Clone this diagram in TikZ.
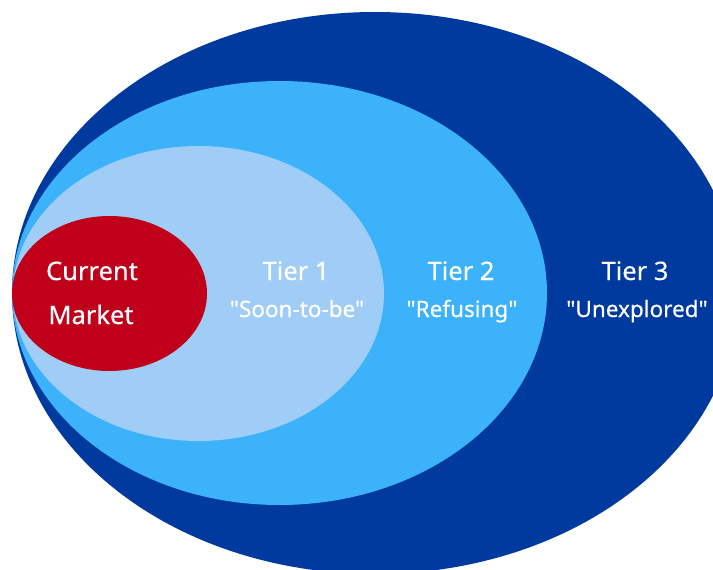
\documentclass[tikz,border=0pt]{standalone}
\usepackage{fontspec}
\newfontfamily\lbl{Noto Sans}[BoldFont={Noto Sans}, BoldFeatures={FakeBold=0.4}]
\usetikzlibrary{shapes.geometric}
\definecolor{tierthree}{HTML}{003A9E}
\definecolor{tiertwo}{HTML}{3BB2FA}
\definecolor{tierone}{HTML}{A0CDF5}
\definecolor{market}{HTML}{C0001A}
\tikzset{
  ring/.style={ellipse, draw=none, inner sep=0pt, outer sep=0pt},
  head/.style={text=white, anchor=base, inner sep=0pt, font=\lbl\fontsize{25.5}{30}\selectfont\bfseries},
  sub/.style={text=white, anchor=base, inner sep=0pt, font=\lbl\fontsize{22.5}{26}\selectfont\bfseries},
}
\begin{document}
\begin{tikzpicture}[x=1pt,y=-1pt]
\useasboundingbox (0,0) rectangle (713,570);
\clip (0,0) rectangle (713,570);
\node[ring, fill=tierthree, minimum width=726pt, minimum height=562pt] (t3) at (375,293) {};
\node[ring, fill=tiertwo, minimum width=535pt, minimum height=424pt] (t2) at (279.5,293) {};
\node[ring, fill=tierone, minimum width=371pt, minimum height=295pt] (t1) at (198.5,293.5) {};
\node[ring, fill=market, minimum width=195pt, minimum height=155pt] (cm) at (109.5,293.5) {};
\node[head] (cur) at (92,280) {Current};
\node[head] (mkt) at (91,324) {Market};
\node[head] (t1a) at (296,280) {Tier 1};
\node[sub] (t1b) at (297,317) {"Soon-to-be"};
\node[head] (t2a) at (461,280) {Tier 2};
\node[sub] (t2b) at (462,317) {"Refusing"};
\node[head] (t3a) at (635,280) {Tier 3};
\node[sub] (t3b) at (637,317) {"Unexplored"};
\end{tikzpicture}
\end{document}
